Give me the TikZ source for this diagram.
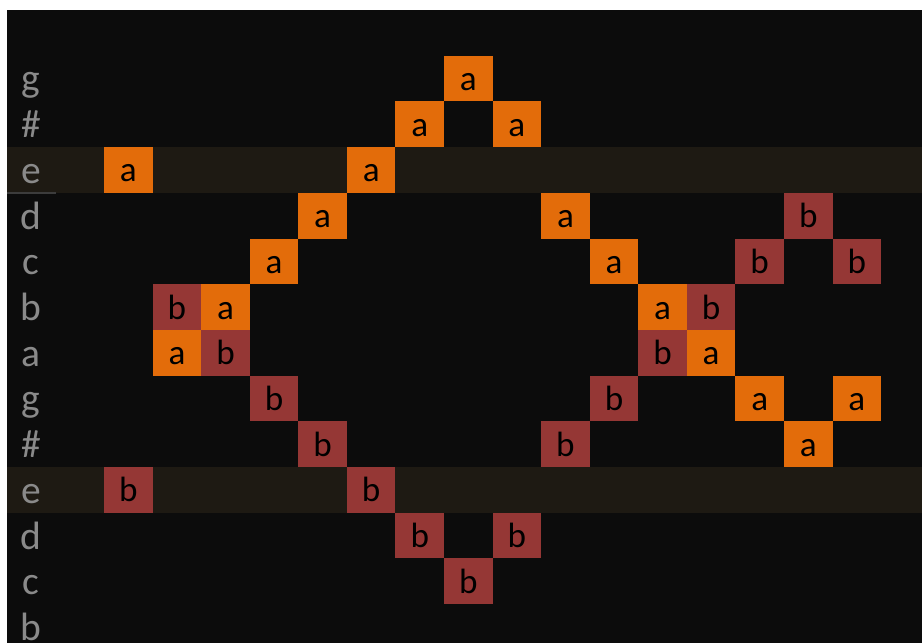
\documentclass[tikz,border=0pt]{standalone}
\usepackage{fontspec}
\setmainfont{Carlito}
\usepackage{xcolor}
\definecolor{bgdark}{HTML}{0C0C0C}
\definecolor{rowhl}{HTML}{1E1A13}
\definecolor{tonea}{HTML}{E36C0A}
\definecolor{toneb}{HTML}{953735}
\definecolor{labgrey}{HTML}{8A8A8A}
\definecolor{cursorgrey}{HTML}{3C3C3C}

\begin{document}
\begin{tikzpicture}[
    x = 0.02cm, y = -0.02cm,
    cell/.style = {rectangle, anchor=center, inner sep=0pt, minimum width=0.9712cm, minimum height=0.914cm, text height=13.6pt, text depth=0pt, font=\fontsize{20}{20}\selectfont, text=black},
    row_label/.style = {inner sep=0pt, text height=15.3pt, text depth=0pt, font=\fontsize{22.5}{22.5}\selectfont, text=labgrey},
    hl_row/.style = {fill=rowhl}
]
\useasboundingbox (0,0) rectangle (922,643);
\fill[white] (0,0) rectangle (922,643);
\fill[bgdark] (7,10) rectangle (922,643);

% highlighted rows
\foreach \r in {3,10}
  \fill[hl_row] (7,{10+45.7*\r}) rectangle (922,{10+45.7*(\r+1)});
\draw[cursorgrey, line width=0.03cm] (7,193) -- (56,193);

% row labels
\foreach \lab [count=\r] in {g,\#,e,d,c,b,a,g,\#,e,d,c,b}
  \node[row_label] (lab\r) at (31.3,{10+45.7*(\r+0.5)}) {\lab};

% note cells: column/row/letter
\foreach \c/\r/\n in {9/1/a, 8/2/a, 10/2/a, 2/3/a, 7/3/a, 6/4/a, 11/4/a, 16/4/b,
    5/5/a, 12/5/a, 15/5/b, 17/5/b, 3/6/b, 4/6/a, 13/6/a, 14/6/b,
    3/7/a, 4/7/b, 13/7/b, 14/7/a, 5/8/b, 12/8/b, 15/8/a, 17/8/a,
    6/9/b, 11/9/b, 16/9/a, 2/10/b, 7/10/b, 8/11/b, 10/11/b, 9/12/b}
  \node[cell, fill=tone\n] (n\c-\r) at ({7+48.56*(\c+0.5)},{10+45.7*(\r+0.5)}) {\n};

\end{tikzpicture}
\end{document}
